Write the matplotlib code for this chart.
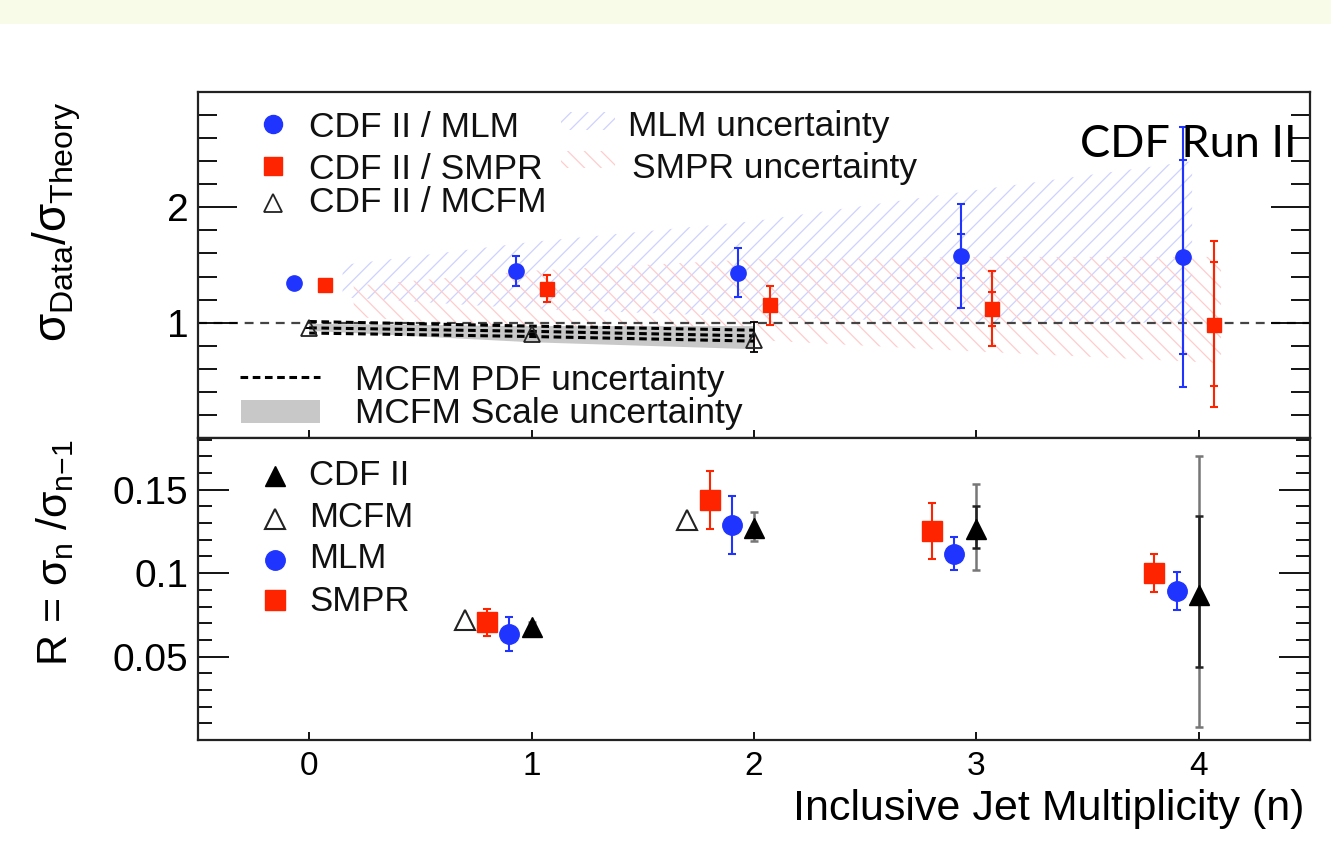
import numpy as np
import matplotlib
matplotlib.use('Agg')
import matplotlib.pyplot as plt
from matplotlib.patches import Rectangle
from matplotlib.lines import Line2D
from matplotlib.ticker import MultipleLocator

plt.rcParams['font.family'] = ['Liberation Sans', 'DejaVu Sans']
plt.rcParams['mathtext.fontset'] = 'custom'
plt.rcParams['mathtext.rm'] = 'Liberation Sans'
plt.rcParams['mathtext.it'] = 'Liberation Sans'
plt.rcParams['mathtext.bf'] = 'Liberation Sans:bold'
plt.rcParams['hatch.linewidth'] = 0.9

# ---------------- data: upper panel (sigma_data / sigma_theory) ----------------
jets_ratio = np.array([0, 1, 2, 3, 4])
mlm_ratio = np.array([1.34, 1.45, 1.43, 1.58, 1.57])
mlm_tot_lo = np.array([0.00, 0.13, 0.21, 0.45, 1.13])
mlm_tot_hi = np.array([0.00, 0.13, 0.22, 0.45, 1.13])
mlm_stat_lo = np.array([0.00, 0.00, 0.00, 0.19, 0.84])
mlm_stat_hi = np.array([0.00, 0.00, 0.00, 0.19, 0.84])

smpr_ratio = np.array([1.33, 1.29, 1.15, 1.12, 0.98])
smpr_tot_lo = np.array([0.00, 0.11, 0.17, 0.32, 0.71])
smpr_tot_hi = np.array([0.00, 0.12, 0.17, 0.33, 0.73])
smpr_stat_lo = np.array([0.00, 0.00, 0.00, 0.15, 0.53])
smpr_stat_hi = np.array([0.00, 0.00, 0.00, 0.15, 0.55])

jets_mcfm = np.array([0, 1, 2])
mcfm_ratio = np.array([0.95, 0.90, 0.85])
mcfm_err_lo = np.array([0.00, 0.00, 0.10])
mcfm_err_hi = np.array([0.00, 0.00, 0.16])

# theory uncertainty bands
band_mlm_x = np.array([0.15, 1.0, 2.0, 3.0, 3.97])
band_mlm_lo = np.array([1.22, 1.12, 1.05, 1.00, 1.00])
band_mlm_hi = np.array([1.50, 1.70, 1.88, 2.15, 2.40])
band_smpr_x = np.array([0.20, 1.0, 2.0, 3.0, 4.10])
band_smpr_lo = np.array([1.05, 0.95, 0.85, 0.75, 0.65])
band_smpr_hi = np.array([1.32, 1.45, 1.55, 1.57, 1.57])
mcfm_pdf_hi = np.array([1.01, 0.97, 0.935])
mcfm_pdf_mid = np.array([0.955, 0.925, 0.885])
mcfm_pdf_lo = np.array([0.91, 0.88, 0.84])
mcfm_scale_lo = np.array([0.93, 0.83, 0.77])
mcfm_scale_hi = np.array([0.99, 0.97, 0.97])

# ---------------- data: lower panel (R = sigma_n / sigma_n-1) ----------------
jets_R = np.array([1, 2, 3, 4])
cdf_R = np.array([0.068, 0.127, 0.1265, 0.087])
cdf_tot_lo = np.array([0.003, 0.008, 0.0245, 0.079])
cdf_tot_hi = np.array([0.003, 0.0095, 0.027, 0.083])
cdf_stat_lo = np.array([0.0, 0.0, 0.0115, 0.0435])
cdf_stat_hi = np.array([0.0, 0.0, 0.014, 0.047])
jets_R_mcfm = np.array([1, 2])
mcfm_R = np.array([0.0717, 0.132])
smpr_R = np.array([0.0705, 0.144, 0.1254, 0.1001])
smpr_R_lo = np.array([0.0083, 0.0174, 0.0167, 0.0114])
smpr_R_hi = np.array([0.0080, 0.0170, 0.0166, 0.0116])
mlm_R = np.array([0.0638, 0.129, 0.1115, 0.0891])
mlm_R_lo = np.array([0.0102, 0.0173, 0.0094, 0.0114])
mlm_R_hi = np.array([0.0097, 0.0174, 0.0099, 0.0114])

x_ticks = [0, 1, 2, 3, 4]
x_ticklabels = ['0', '1', '2', '3', '4']
ratio_ticks = [1, 2]
ratio_ticklabels = ['1', '2']
R_ticks = [0.05, 0.1, 0.15]
R_ticklabels = ['0.05', '0.1', '0.15']

BLUE = '#1f35ff'
RED = '#ff2400'
HATCH_BLUE = '#cdd2ff'
HATCH_RED = '#ffcccc'

W, H = 1331, 849
fig = plt.figure(figsize=(W / 100, H / 100), dpi=100)


def fx(px):
    return px / W


def fy(py):
    return 1 - py / H


fig.add_artist(Rectangle((0, fy(24)), 1, 24 / H, transform=fig.transFigure,
                         facecolor='#f9fbe9', edgecolor='none', zorder=0))

ax1 = fig.add_axes([fx(198), fy(438), (1310 - 198) / W, (438 - 92) / H])
ax2 = fig.add_axes([fx(198), fy(740), (1310 - 198) / W, (740 - 438) / H])

for ax in (ax1, ax2):
    ax.set_xlim(-0.5, 4.5)
    for s in ax.spines.values():
        s.set_linewidth(1.6)
        s.set_color('#222222')
    ax.set_xticks(x_ticks)
    ax.tick_params(axis='x', which='major', direction='in', length=6, width=1.3,
                   bottom=True, top=False, labelsize=24, pad=8)
    ax.tick_params(axis='y', which='both', direction='in', left=True, right=True,
                   width=1.3, labelsize=28, pad=7)

ax1.set_ylim(0, 3)
ax1.set_yticks(ratio_ticks)
ax1.set_yticklabels(ratio_ticklabels)
ax1.yaxis.set_minor_locator(MultipleLocator(0.2))
ax1.tick_params(axis='y', which='major', length=28)
ax1.tick_params(axis='y', which='minor', length=14)
ax1.tick_params(axis='x', labelbottom=False)

ax2.set_ylim(0, 0.181)
ax2.set_yticks(R_ticks)
ax2.set_yticklabels(R_ticklabels)
ax2.yaxis.set_minor_locator(MultipleLocator(0.01))
ax2.tick_params(axis='y', which='major', length=22)
ax2.tick_params(axis='y', which='minor', length=10)
ax2.set_xticklabels(x_ticklabels)

# ---------- upper panel ----------
ax1.fill_between(band_mlm_x, band_mlm_lo, band_mlm_hi, facecolor='none',
                 edgecolor=HATCH_BLUE, hatch='//', linewidth=0, zorder=1)
ax1.fill_between(band_smpr_x, band_smpr_lo, band_smpr_hi, facecolor='none',
                 edgecolor=HATCH_RED, hatch='\\\\', linewidth=0, zorder=1)
ax1.axhline(1.0, color='#444444', ls=(0, (4, 3)), lw=1.6, zorder=1.5)
ax1.fill_between(jets_mcfm, mcfm_scale_lo, mcfm_scale_hi, facecolor='#c8c8c8',
                 edgecolor='none', zorder=2)
for arr in (mcfm_pdf_hi, mcfm_pdf_mid, mcfm_pdf_lo):
    ax1.plot(jets_mcfm, arr, color='black', ls=(0, (2.5, 1.5)), lw=2.2, zorder=2.5)


def draw_err(ax, x, y, lo, hi, color, lw=1.5, cap=3, z=3):
    ax.errorbar(x, y, yerr=[lo, hi], fmt='none', ecolor=color, elinewidth=lw,
                capsize=cap, capthick=lw, zorder=z)


draw_err(ax1, jets_ratio - 0.07, mlm_ratio, mlm_tot_lo, mlm_tot_hi, BLUE)
draw_err(ax1, jets_ratio - 0.07, mlm_ratio, mlm_stat_lo, mlm_stat_hi, BLUE)
ax1.plot(jets_ratio - 0.07, mlm_ratio, ls='none', marker='o', ms=11,
         color=BLUE, mec=BLUE, zorder=4)
draw_err(ax1, jets_ratio + 0.07, smpr_ratio, smpr_tot_lo, smpr_tot_hi, RED)
draw_err(ax1, jets_ratio + 0.07, smpr_ratio, smpr_stat_lo, smpr_stat_hi, RED)
ax1.plot(jets_ratio + 0.07, smpr_ratio, ls='none', marker='s', ms=10.5,
         color=RED, mec=RED, zorder=4)
draw_err(ax1, jets_mcfm, mcfm_ratio, mcfm_err_lo, mcfm_err_hi, 'black', lw=1.3)
ax1.plot(jets_mcfm, mcfm_ratio, ls='none', marker='^', ms=11, mfc='none',
         mec='#222222', mew=1.3, zorder=4)

# ---------- lower panel ----------
draw_err(ax2, jets_R, cdf_R, cdf_tot_lo, cdf_tot_hi, '#777777', lw=1.8)
draw_err(ax2, jets_R, cdf_R, cdf_stat_lo, cdf_stat_hi, '#222222', lw=1.8)
ax2.plot(jets_R, cdf_R, ls='none', marker='^', ms=14, color='black', zorder=5)
ax2.plot(jets_R_mcfm - 0.3, mcfm_R, ls='none', marker='^', ms=14, mfc='none',
         mec='#222222', mew=1.5, zorder=4)
draw_err(ax2, jets_R - 0.2, smpr_R, smpr_R_lo, smpr_R_hi, RED)
ax2.plot(jets_R - 0.2, smpr_R, ls='none', marker='s', ms=14, color=RED, zorder=4)
draw_err(ax2, jets_R - 0.1, mlm_R, mlm_R_lo, mlm_R_hi, BLUE)
ax2.plot(jets_R - 0.1, mlm_R, ls='none', marker='o', ms=14, color=BLUE, zorder=4)

# ---------- legends (drawn in figure pixel layout) ----------
FS = 25.5
tf = fig.transFigure


def leg_marker(px, py, **kw):
    fig.add_artist(Line2D([fx(px)], [fy(py)], transform=tf, ls='none', **kw))


def leg_text(px, py_base, s, fs=FS):
    fig.text(fx(px), fy(py_base), s, fontsize=fs, ha='left', va='baseline',
             color='#111111')


leg_marker(273, 124, marker='o', ms=13, color=BLUE)
leg_text(309, 137, 'CDF II / MLM')
leg_marker(273, 166, marker='s', ms=13, color=RED)
leg_text(309, 179, 'CDF II / SMPR')
leg_marker(273, 203, marker='^', ms=13, mfc='none', mec='#222222', mew=1.3)
leg_text(309, 212, 'CDF II / MCFM')

fig.add_artist(Rectangle((fx(561), fy(130)), 54 / W, 18 / H, transform=tf,
                         facecolor='none', edgecolor=HATCH_BLUE, hatch='//', lw=0))
leg_text(628, 136, 'MLM uncertainty')
fig.add_artist(Rectangle((fx(561), fy(168)), 54 / W, 17 / H, transform=tf,
                         facecolor='none', edgecolor=HATCH_RED, hatch='\\\\', lw=0))
leg_text(632, 178, 'SMPR uncertainty')

fig.add_artist(Line2D([fx(240), fx(320)], [fy(377), fy(377)], transform=tf,
                      color='black', ls=(0, (2.5, 1.5)), lw=2.2))
leg_text(355, 390, 'MCFM PDF uncertainty')
fig.add_artist(Rectangle((fx(241), fy(423)), 79 / W, 23 / H, transform=tf,
                         facecolor='#c8c8c8', edgecolor='none'))
leg_text(355, 423, 'MCFM Scale uncertainty')

FS2 = 25
leg_marker(275, 476, marker='^', ms=14, color='black')
leg_text(309, 485, 'CDF II', FS2)
leg_marker(275, 519, marker='^', ms=14, mfc='none', mec='#222222', mew=1.5)
leg_text(309, 527, 'MCFM', FS2)
leg_marker(275, 560, marker='o', ms=14, color=BLUE)
leg_text(309, 568, 'MLM', FS2)
leg_marker(275, 600, marker='s', ms=14, color=RED)
leg_text(309, 611, 'SMPR', FS2)

fig.text(fx(1080), fy(157), 'CDF Run II', fontsize=32.5, family=['Lato', 'DejaVu Sans'],
         ha='left', va='baseline', color='black')

# axis labels
fig.text(fx(57), fy(222), r'$\sigma_{\rm Data}/\sigma_{\rm Theory}$', rotation=90,
         ha='center', va='center', fontsize=33)
fig.text(fx(55), fy(553), r'R = $\sigma_{\rm n}$ /$\sigma_{\rm n{-}1}$', rotation=90,
         ha='center', va='center', fontsize=31)
fig.text(fx(1304), fy(820), 'Inclusive Jet Multiplicity (n)', fontsize=31,
         ha='right', va='baseline')

fig.savefig('out.png', dpi=100)
